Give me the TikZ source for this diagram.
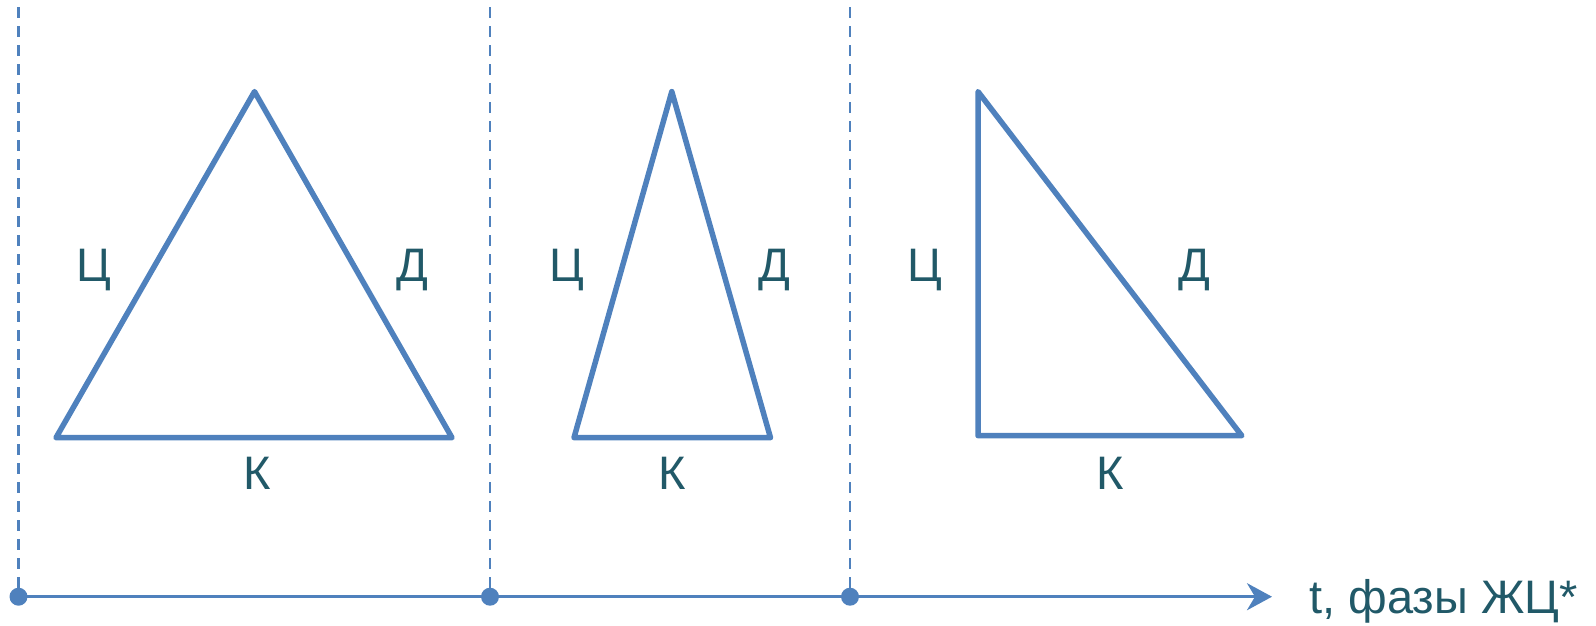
\documentclass[tikz,border=0pt]{standalone}
\usepackage{fontspec}
\setmainfont{Liberation Sans}
\usetikzlibrary{arrows.meta}
\definecolor{lineblue}{HTML}{4F81BD}
\definecolor{txt}{HTML}{215968}
\begin{document}
\begin{tikzpicture}[x=1pt,y=-1pt,
  tri/.style={draw=lineblue,line width=5.5pt,line join=round},
  lbl/.style={text=txt,font=\fontsize{47}{52}\selectfont,anchor=base,inner sep=0pt},
  dot/.style={circle,fill=lineblue,minimum size=18pt,inner sep=0pt},
  guide/.style={draw=lineblue,line width=2.5pt,dash pattern=on 11pt off 8pt},
  axis/.style={draw=lineblue,line width=3pt}]
\useasboundingbox (0,0) rectangle (1596,625);
% triangles
\coordinate (a1) at (254.5,91.6);
\coordinate (b1) at (56,437.7);
\coordinate (c1) at (452,437.7);
\draw[tri] (a1) -- (b1) -- (c1) -- cycle;
\coordinate (a2) at (671.8,91.6);
\coordinate (b2) at (574,437.7);
\coordinate (c2) at (770.5,437.7);
\draw[tri] (a2) -- (b2) -- (c2) -- cycle;
\coordinate (a3) at (978,91.6);
\coordinate (b3) at (978,435.7);
\coordinate (c3) at (1241.8,435.7);
\draw[tri] (a3) -- (b3) -- (c3) -- cycle;
% labels
\node[lbl] (c1l) at (94,281) {Ц};
\node[lbl] (d1l) at (412,281) {Д};
\node[lbl] (k1l) at (257,489) {К};
\node[lbl] (c2l) at (567,281) {Ц};
\node[lbl] (d2l) at (774,281) {Д};
\node[lbl] (k2l) at (672,489) {К};
\node[lbl] (c3l) at (925,281) {Ц};
\node[lbl] (d3l) at (1194,281) {Д};
\node[lbl] (k3l) at (1110,489) {К};
% axis
\node[dot] (p1) at (18.5,596.7) {};
\node[dot] (p2) at (490,596.7) {};
\node[dot] (p3) at (850,596.7) {};
\coordinate (tip) at (1272,596.7);
\coordinate (t1) at (18.5,7);
\coordinate (t2) at (490,7);
\coordinate (t3) at (850,7);
\draw[guide] (t1) -- (p1.center);
\draw[guide] (t2) -- (p2.center);
\draw[guide] (t3) -- (p3.center);
\draw[axis,-{Stealth[length=25pt,width=27pt,inset=8pt]}] (p1.center) -- (tip);
\node[lbl,anchor=base west] (axl) at (1309,613) {t, фазы ЖЦ*};
\end{tikzpicture}
\end{document}
